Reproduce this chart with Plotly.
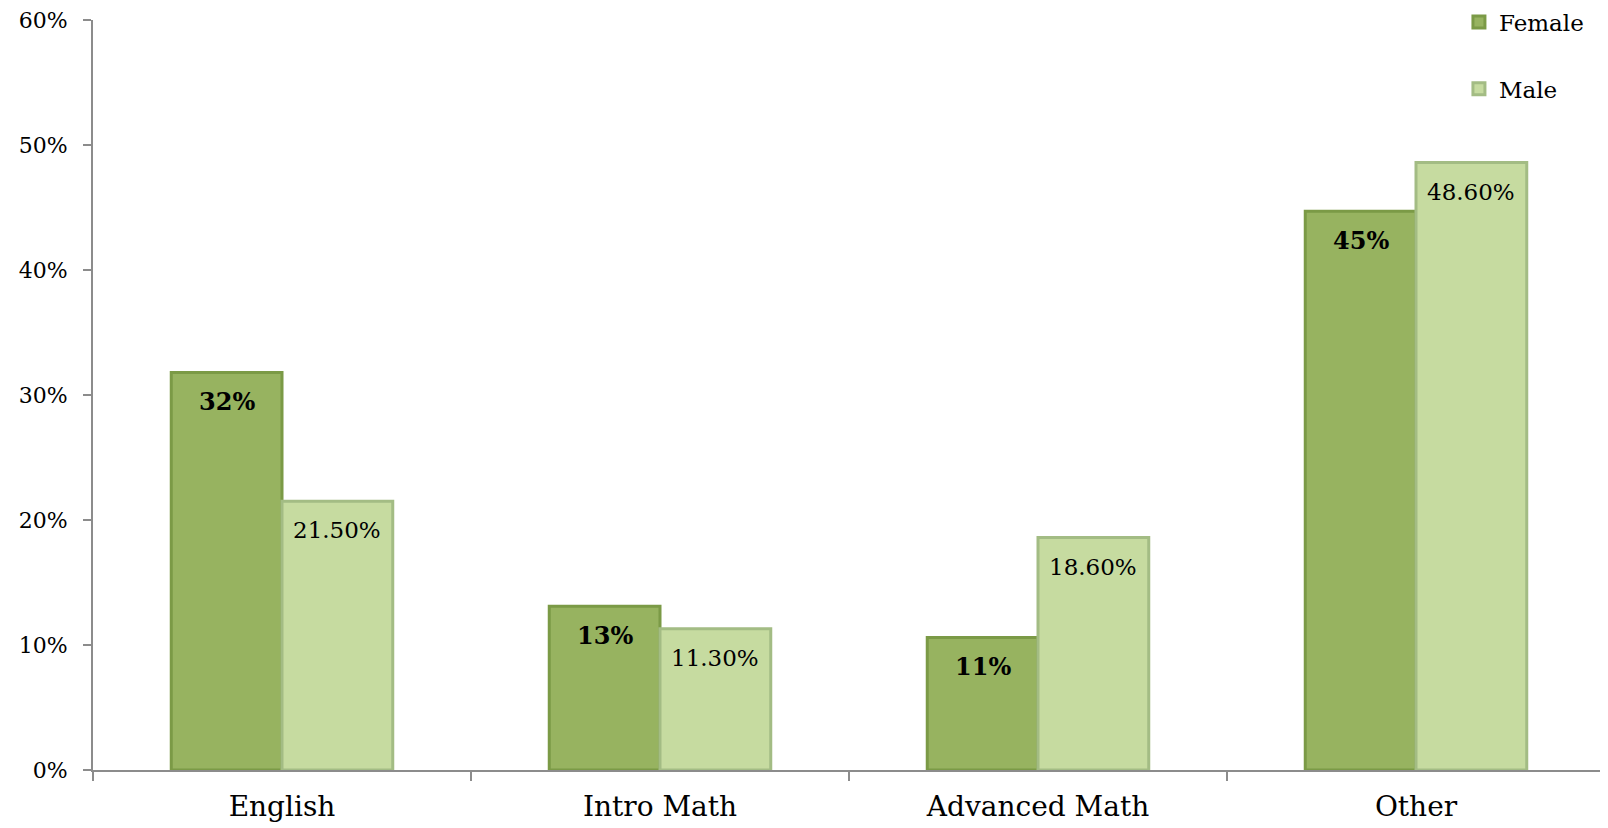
import plotly.graph_objects as go

# subjects and the share of each gender (percent)
subjects = ["English", "Intro Math", "Advanced Math", "Other"]
female = [31.8, 13.1, 10.6, 44.7]
male = [21.5, 11.3, 18.6, 48.6]
y_ticks = [0, 10, 20, 30, 40, 50, 60]
y_labels = [f"{v}%" for v in y_ticks]

font_family = "DejaVu Serif"
bar_w = 0.293

fig = go.Figure()

fig.add_trace(go.Bar(
    x=subjects, y=female, name="Female", legendgroup="f",
    width=bar_w, offset=-bar_w,
    marker=dict(color="#97b360", line=dict(color="#7b9a46", width=3)),
))

fig.add_trace(go.Bar(
    x=subjects, y=male, name="Male", legendgroup="m",
    width=bar_w, offset=0,
    marker=dict(color="#c6dba0", line=dict(color="#a3bc84", width=3)),
))

# value labels just below the top of each bar
for i, (f, m) in enumerate(zip(female, male)):
    fig.add_annotation(
        x=i - bar_w / 2, y=f, text=f"<b>{f:.0f}%</b>", showarrow=False,
        yanchor="middle", yshift=-29,
        font=dict(family=font_family, size=24, color="black"),
    )
    fig.add_annotation(
        x=i + bar_w / 2, y=m, text=f"{m:.2f}%", showarrow=False,
        yanchor="middle", yshift=-29,
        font=dict(family=font_family, size=23, color="black"),
    )

fig.update_layout(
    width=1608, height=828,
    margin=dict(l=85, r=11, t=12, b=66, autoexpand=False),
    plot_bgcolor="white", paper_bgcolor="white",
    barmode="group",
    font=dict(family=font_family, color="black"),
    legend=dict(
        x=0.9034, y=1.026, xanchor="left", yanchor="top",
        font=dict(size=23), tracegroupgap=34,
        itemwidth=30, bgcolor="rgba(0,0,0,0)",
    ),
    xaxis=dict(
        showline=True, linecolor="#8c8c8c", linewidth=2,
        ticks="outside", tickson="boundaries", ticklen=9,
        tickcolor="#8c8c8c", tickwidth=2, ticklabelstandoff=10,
        tickfont=dict(size=28), showgrid=False,
    ),
    yaxis=dict(
        range=[0, 60], tickmode="array", tickvals=y_ticks, ticktext=y_labels,
        showline=True, linecolor="#8c8c8c", linewidth=2,
        ticks="outside", ticklen=8, tickcolor="#8c8c8c", tickwidth=2,
        ticklabelstandoff=11, ticklabeloverflow="allow",
        tickfont=dict(size=22), showgrid=False, zeroline=False,
    ),
)

fig.write_html("out.html")
